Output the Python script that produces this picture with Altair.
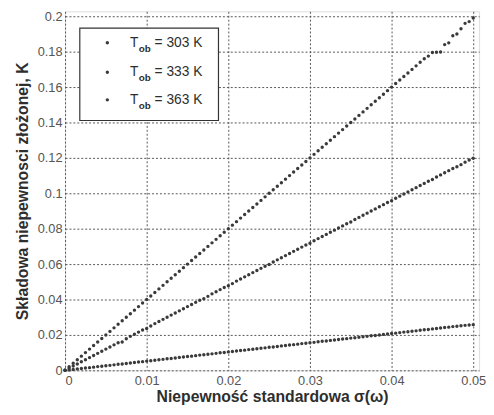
import altair as alt
import pandas as pd

X = [0.0, 0.0005, 0.001, 0.0015, 0.002, 0.0025, 0.003, 0.0035, 0.004, 0.0045,
     0.005, 0.0055, 0.006, 0.0065, 0.007, 0.0075, 0.008, 0.0085, 0.009, 0.0095,
     0.01, 0.0105, 0.011, 0.0115, 0.012, 0.0125, 0.013, 0.0135, 0.014, 0.0145,
     0.015, 0.0155, 0.016, 0.0165, 0.017, 0.0175, 0.018, 0.0185, 0.019, 0.0195,
     0.02, 0.0205, 0.021, 0.0215, 0.022, 0.0225, 0.023, 0.0235, 0.024, 0.0245,
     0.025, 0.0255, 0.026, 0.0265, 0.027, 0.0275, 0.028, 0.0285, 0.029, 0.0295,
     0.03, 0.0305, 0.031, 0.0315, 0.032, 0.0325, 0.033, 0.0335, 0.034, 0.0345,
     0.035, 0.0355, 0.036, 0.0365, 0.037, 0.0375, 0.038, 0.0385, 0.039, 0.0395,
     0.04, 0.0405, 0.041, 0.0415, 0.042, 0.0425, 0.043, 0.0435, 0.044, 0.0445,
     0.045, 0.0455, 0.046, 0.0465, 0.047, 0.0475, 0.048, 0.0485, 0.049, 0.0495,
     0.05]

Y303 = [0.0, 0.0002, 0.0005, 0.0008, 0.0010, 0.0013, 0.0015, 0.0018, 0.0021, 0.0023,
        0.0026, 0.0028, 0.0031, 0.0034, 0.0036, 0.0039, 0.0041, 0.0044, 0.0047, 0.0049,
        0.0052, 0.0054, 0.0057, 0.0060, 0.0062, 0.0065, 0.0067, 0.0070, 0.0073, 0.0075,
        0.0078, 0.0080, 0.0083, 0.0086, 0.0088, 0.0091, 0.0093, 0.0096, 0.0099, 0.0101,
        0.0104, 0.0106, 0.0109, 0.0112, 0.0114, 0.0117, 0.0119, 0.0122, 0.0125, 0.0127,
        0.0130, 0.0132, 0.0135, 0.0138, 0.0140, 0.0143, 0.0145, 0.0148, 0.0151, 0.0153,
        0.0156, 0.0158, 0.0161, 0.0164, 0.0166, 0.0169, 0.0171, 0.0174, 0.0177, 0.0179,
        0.0182, 0.0184, 0.0187, 0.0190, 0.0192, 0.0195, 0.0197, 0.0200, 0.0203, 0.0205,
        0.0208, 0.0210, 0.0213, 0.0216, 0.0218, 0.0221, 0.0223, 0.0226, 0.0229, 0.0231,
        0.0234, 0.0236, 0.0239, 0.0242, 0.0244, 0.0247, 0.0249, 0.0252, 0.0254, 0.0256,
        0.0258]

Y333 = [0.0, 0.0012, 0.0024, 0.0036, 0.0048, 0.0060, 0.0072, 0.0084, 0.0096, 0.0108,
        0.0120, 0.0132, 0.0144, 0.0156, 0.0160, 0.0178, 0.0192, 0.0204, 0.0216, 0.0228,
        0.0236, 0.0250, 0.0264, 0.0276, 0.0288, 0.0300, 0.0312, 0.0324, 0.0336, 0.0348,
        0.0360, 0.0372, 0.0384, 0.0396, 0.0404, 0.0418, 0.0432, 0.0444, 0.0456, 0.0468,
        0.0478, 0.0490, 0.0504, 0.0516, 0.0528, 0.0540, 0.0552, 0.0564, 0.0576, 0.0588,
        0.0598, 0.0612, 0.0624, 0.0636, 0.0648, 0.0660, 0.0672, 0.0684, 0.0696, 0.0708,
        0.0718, 0.0732, 0.0744, 0.0756, 0.0768, 0.0780, 0.0792, 0.0804, 0.0816, 0.0828,
        0.0838, 0.0852, 0.0864, 0.0876, 0.0888, 0.0900, 0.0912, 0.0924, 0.0936, 0.0948,
        0.0958, 0.0972, 0.0984, 0.0996, 0.1008, 0.1020, 0.1032, 0.1044, 0.1056, 0.1068,
        0.1078, 0.1092, 0.1104, 0.1116, 0.1128, 0.1140, 0.1150, 0.1162, 0.1176, 0.1188,
        0.1198]

Y363 = [0.0, 0.002, 0.004, 0.006, 0.008, 0.010, 0.012, 0.014, 0.016, 0.018,
        0.020, 0.022, 0.024, 0.026, 0.028, 0.030, 0.032, 0.034, 0.036, 0.038,
        0.040, 0.042, 0.044, 0.046, 0.048, 0.050, 0.052, 0.054, 0.056, 0.058,
        0.060, 0.062, 0.064, 0.066, 0.068, 0.070, 0.072, 0.074, 0.076, 0.078,
        0.080, 0.082, 0.084, 0.086, 0.088, 0.090, 0.092, 0.094, 0.096, 0.098,
        0.100, 0.102, 0.104, 0.106, 0.108, 0.110, 0.112, 0.114, 0.116, 0.118,
        0.120, 0.122, 0.124, 0.126, 0.128, 0.130, 0.132, 0.134, 0.136, 0.138,
        0.140, 0.142, 0.144, 0.146, 0.148, 0.150, 0.152, 0.154, 0.156, 0.158,
        0.160, 0.162, 0.164, 0.166, 0.168, 0.170, 0.172, 0.174, 0.176, 0.1775,
        0.1795, 0.1797, 0.1798, 0.184, 0.185, 0.189, 0.190, 0.193, 0.196, 0.197,
        0.199]

SERIES = ["303", "333", "363"]
YTICKS = [0, 0.02, 0.04, 0.06, 0.08, 0.1, 0.12, 0.14, 0.16, 0.18, 0.2]
XTICKS = [0, 0.01, 0.02, 0.03, 0.04, 0.05]

rows = []
for name, ys in zip(SERIES, [Y303, Y333, Y363]):
    for xv, yv in zip(X, ys):
        rows.append({"x": xv, "y": yv, "s": name})
df = pd.DataFrame(rows)

FONT = "Liberation Sans"
INK = "#2e2e2e"
DOT = "#3a3a3a"

points = alt.Chart(df).mark_circle(size=12, color=DOT, opacity=1).encode(
    x=alt.X("x:Q", scale=alt.Scale(domain=[0, 0.05072], nice=False, zero=False),
            axis=alt.Axis(values=XTICKS, format="~g", title="Niepewność standardowa σ(ω)",
                          grid=True, gridDash=[2, 2], gridColor="#555555", gridWidth=1,
                          tickSize=0, labelPadding=4, domain=False,
                          labelFont=FONT, labelFontSize=13, labelColor="#555555",
                          titleFont=FONT, titleFontSize=16, titleFontWeight="bold",
                          titleColor=INK, titlePadding=2)),
    y=alt.Y("y:Q", scale=alt.Scale(domain=[0, 0.2028], nice=False, zero=False),
            axis=alt.Axis(values=YTICKS, format="~g", title="Składowa niepewnosci złożonej, K",
                          grid=True, gridDash=[2, 2], gridColor="#555555", gridWidth=1,
                          tickSize=0, labelPadding=3, domain=False,
                          labelFont=FONT, labelFontSize=13, labelColor="#555555",
                          titleFont=FONT, titleFontSize=16, titleFontWeight="bold",
                          titleColor=INK, titlePadding=7)),
    detail="s:N",
)

one = alt.Data(values=[{"a": 1}])
box = alt.Chart(one).mark_rect(fill="white", stroke="#333333", strokeWidth=1.2).encode(
    x=alt.value(15), x2=alt.value(156), y=alt.value(17), y2=alt.value(111))

layers = [points, box]
row_y = [32, 62, 90]
for name, ry in zip(SERIES, row_y):
    layers.append(alt.Chart(one).mark_circle(size=12, color=DOT, opacity=1).encode(
        x=alt.value(43), y=alt.value(ry)))
    layers.append(alt.Chart(one).mark_text(text="T", font=FONT, fontSize=14, align="left",
                                           baseline="middle", color=INK).encode(
        x=alt.value(66), y=alt.value(ry)))
    layers.append(alt.Chart(one).mark_text(text="ob", font=FONT, fontSize=10, fontWeight="bold",
                                           align="left", baseline="middle", color=INK).encode(
        x=alt.value(75), y=alt.value(ry + 6)))
    layers.append(alt.Chart(one).mark_text(text=f"= {name} K", font=FONT, fontSize=14,
                                           align="left", baseline="middle", color=INK).encode(
        x=alt.value(91), y=alt.value(ry)))

chart = alt.layer(*layers).properties(
    width=421, height=365,
    autosize=alt.AutoSizeParams(type="none"),
    padding={"left": 58, "top": 0, "right": 7, "bottom": 40},
).configure_view(stroke="#333333", strokeWidth=1.2).configure(background="white")

chart.save("out.html", embed_options={"renderer": "svg", "actions": False})
